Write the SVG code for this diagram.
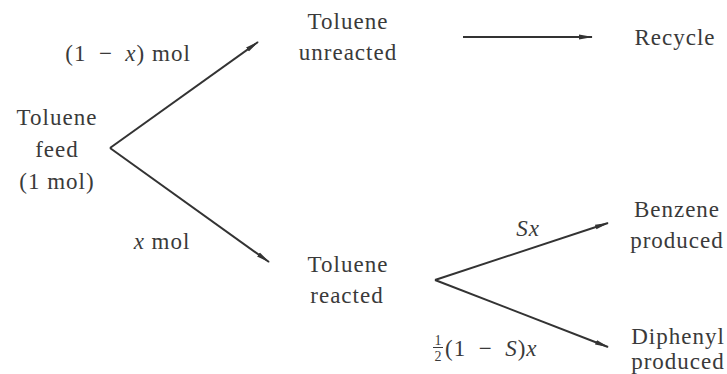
<svg xmlns="http://www.w3.org/2000/svg" width="727" height="374" viewBox="0 0 727 374">
<style>
text{font-family:"Liberation Serif","Times New Roman",serif;font-size:23px;fill:#3a3a3a;letter-spacing:1px}
.c{text-anchor:middle}
.i{font-style:italic}
.ln{stroke:#333;stroke-width:2;fill:none}
</style>
<defs>
<marker id="ah" viewBox="0 0 14 6" refX="13" refY="3" markerWidth="14" markerHeight="6" markerUnits="userSpaceOnUse" orient="auto">
<path d="M0,0.6 L14,3 L0,5.4 Z" fill="#333"/>
</marker>
</defs>
<rect width="727" height="374" fill="#fff"/>
<g id="connectors">
<path class="ln" d="M110,148 L258,42" marker-end="url(#ah)"/>
<path class="ln" d="M110,148 L269,262" marker-end="url(#ah)"/>
<path class="ln" d="M463,37 L592,37" marker-end="url(#ah)"/>
<path class="ln" d="M435,280 L608,223" marker-end="url(#ah)"/>
<path class="ln" d="M435,280 L608,347" marker-end="url(#ah)"/>
</g>
<g id="labels">
<text x="128" y="61" class="c">(1&#8194;−&#8194;<tspan class="i">x</tspan>) mol</text>
<text x="162" y="249" class="c"><tspan class="i">x</tspan> mol</text>
<text x="528" y="236" class="c i">Sx</text>
<g id="frac">
<text x="438" y="345" class="c" style="font-size:14px;letter-spacing:0">1</text>
<line x1="433" y1="347.5" x2="443" y2="347.5" stroke="#3a3a3a" stroke-width="1"/>
<text x="438" y="361" class="c" style="font-size:14px;letter-spacing:0">2</text>
<text x="445" y="356">(1&#8194;−&#8194;<tspan class="i">S</tspan>)<tspan class="i">x</tspan></text>
</g>
</g>
<g id="feed">
<text x="57" y="125" class="c">Toluene</text>
<text x="57" y="157" class="c">feed</text>
<text x="57" y="189" class="c">(1 mol)</text>
</g>
<g id="unreacted">
<text x="348" y="29" class="c">Toluene</text>
<text x="348" y="60" class="c">unreacted</text>
</g>
<g id="recycle">
<text x="675" y="45" class="c">Recycle</text>
</g>
<g id="reacted">
<text x="348" y="272" class="c">Toluene</text>
<text x="347" y="303" class="c">reacted</text>
</g>
<g id="benzene">
<text x="677" y="217" class="c">Benzene</text>
<text x="677" y="248" class="c">produced</text>
</g>
<g id="diphenyl">
<text x="678" y="344" class="c">Diphenyl</text>
<text x="678" y="369" class="c">produced</text>
</g>
</svg>
